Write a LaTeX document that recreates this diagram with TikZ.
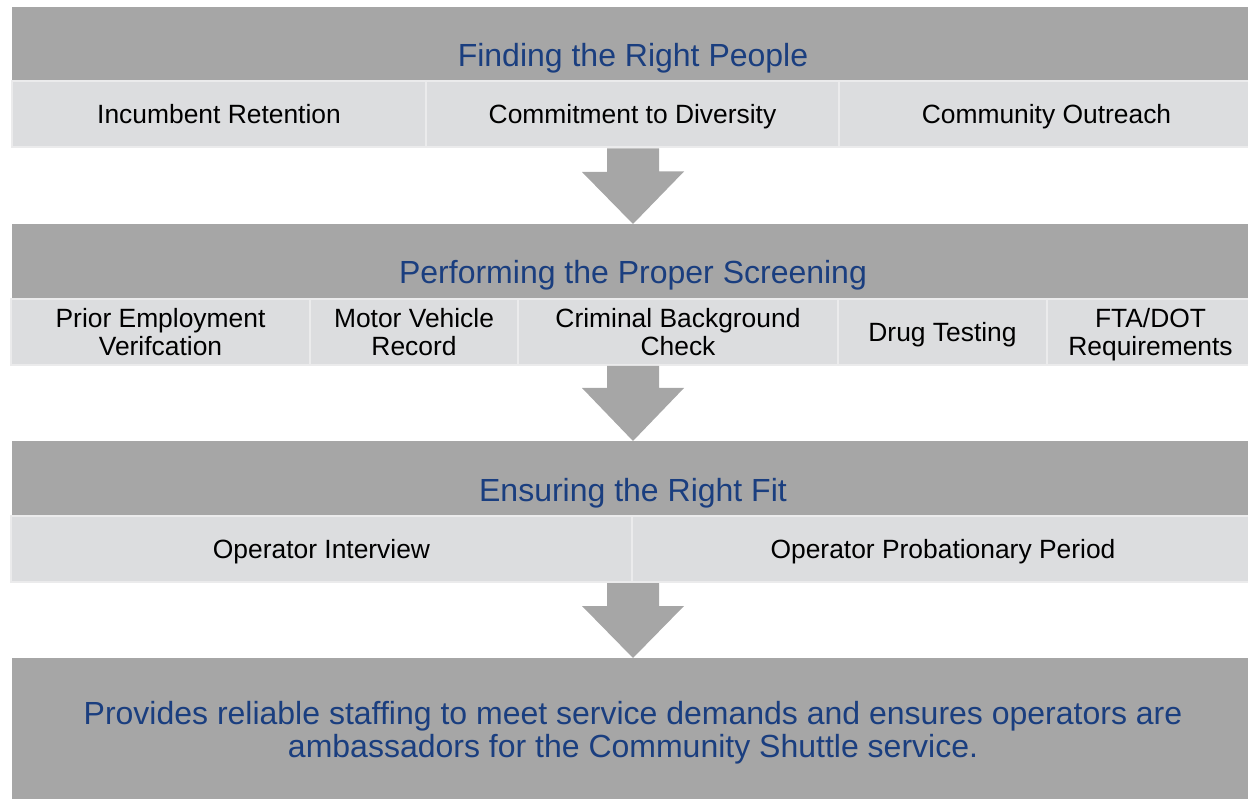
\documentclass[tikz,border=0pt]{standalone}
\usepackage{fontspec}
\setmainfont{Liberation Sans}
\definecolor{headgray}{HTML}{A6A6A6}
\definecolor{cellgray}{HTML}{DCDDDF}
\definecolor{celledge}{HTML}{EBEBEC}
\definecolor{titleblue}{HTML}{1A3E7F}

\begin{document}
\begin{tikzpicture}[x=1pt, y=-1pt,
    bandhead/.style={fill=headgray, minimum width=1242pt, minimum height=74pt, inner sep=0pt, outer sep=0pt},
    bandtitle/.style={text=titleblue, font=\fontsize{32}{33}\selectfont, anchor=base, inner sep=0pt},
    bandcell/.style={fill=cellgray, draw=celledge, line width=2pt, minimum height=66pt, inner sep=0pt,
        align=center, text depth=0pt, font=\fontsize{26.4}{27.5}\selectfont},
    oneline/.style={text height=19pt},
    flowarrow/.style={fill=headgray}]
    \useasboundingbox (0,0) rectangle (1248,799);
    % first band, finding people.
    \node[bandhead] (find) at (633,44) {};
    \node[bandtitle] (find title) at (633,67) {Finding the Right People};
    \node[bandcell, oneline, minimum width=414pt] (retention) at (219,114.5) {Incumbent Retention};
    \node[bandcell, oneline, minimum width=413pt] (diversity) at (632.5,114.5) {Commitment to Diversity};
    \node[bandcell, oneline, minimum width=415pt] (outreach) at (1046.5,114.5) {Community Outreach};
    % second band, screening.
    \node[bandhead] (screen) at (633,261) {};
    \node[bandtitle] (screen title) at (633,284) {Performing the Proper Screening};
    \node[bandcell, minimum width=299pt] (employment) at (160.5,332) {Prior Employment\\Verifcation};
    \node[bandcell, minimum width=208pt] (vehicle) at (414,332) {Motor Vehicle\\Record};
    \node[bandcell, minimum width=320pt] (criminal) at (678,332) {Criminal Background\\Check};
    \node[bandcell, oneline, minimum width=209pt] (drug) at (942.5,332) {Drug Testing};
    \node[bandcell, minimum width=207pt] (fta) at (1150.5,332) {FTA/DOT\\Requirements};
    % third band, right fit.
    \node[bandhead] (fit) at (633,478) {};
    \node[bandtitle] (fit title) at (633,501) {Ensuring the Right Fit};
    \node[bandcell, oneline, minimum width=621pt] (interview) at (321.5,549) {Operator Interview};
    \node[bandcell, oneline, minimum width=622pt] (probation) at (943,549) {Operator Probationary Period};
    % last band, the outcome.
    \node[bandhead, minimum height=150pt, align=center, text=titleblue,
        font=\fontsize{32}{33}\selectfont] (result) at (633,733)
        {Provides reliable staffing to meet service demands and ensures operators are\\
         ambassadors for the Community Shuttle service.};
    % flow arrows between the bands.
    \coordinate (flow1 root) at (find.center |- diversity.south);
    \coordinate (flow1 tip) at (screen.north);
    \fill[flowarrow] (flow1 root) ++(-26,0) -- ++(52,0) -- ++(0,23) -- ++(25,0)
        -- (flow1 tip) -- ++(-51,-52) -- ++(25,0) -- cycle;
    \coordinate (flow2 root) at (screen.center |- criminal.south);
    \coordinate (flow2 tip) at (fit.north);
    \fill[flowarrow] (flow2 root) ++(-26,0) -- ++(52,0) -- ++(0,22) -- ++(25,0)
        -- (flow2 tip) -- ++(-51,-53) -- ++(25,0) -- cycle;
    \coordinate (flow3 root) at (fit.center |- interview.south);
    \coordinate (flow3 tip) at (result.north);
    \fill[flowarrow] (flow3 root) ++(-26,0) -- ++(52,0) -- ++(0,23) -- ++(25,0)
        -- (flow3 tip) -- ++(-51,-52) -- ++(25,0) -- cycle;
\end{tikzpicture}
\end{document}
